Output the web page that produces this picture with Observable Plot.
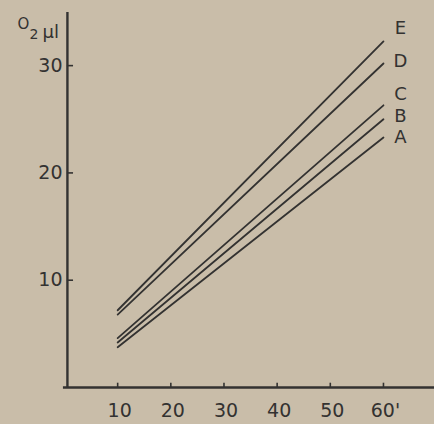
<!DOCTYPE html>
<html>
<head>
<meta charset="utf-8">
<script src="https://cdn.jsdelivr.net/npm/d3@7"></script>
<script src="https://cdn.jsdelivr.net/npm/@observablehq/plot@0.6"></script>
<style>
  html, body { margin: 0; padding: 0; background: #c9bda9; }
  #chart svg { display: block; }
</style>
</head>
<body>
<div id="chart"></div>
<script>
// ---- data ----
const seriesNames = ["A", "B", "C", "D", "E"];
const timeStart = 10;          // minutes
const timeEnd = 60;            // minutes
const o2AtStart = [3.75, 4.2, 4.6, 6.8, 7.2];    // O2 µl at 10'
const o2AtEnd   = [23.3, 25.0, 26.3, 30.2, 32.25]; // O2 µl at 60'
const xTickValues = [10, 20, 30, 40, 50, 60];
const xTickLabels = ["10", "20", "30", "40", "50", "60'"];
const yTickValues = [10, 20, 30];
const yTickLabels = ["10", "20", "30"];

// label nudges (layout only, in y units)
const labelNudge = [0.0, 0.3, 1.0, 0.2, 1.25];

const lineRows = seriesNames.flatMap((s, i) => [
  {series: s, t: timeStart, o2: o2AtStart[i]},
  {series: s, t: timeEnd, o2: o2AtEnd[i]}
]);
const labelRows = seriesNames.map((s, i) => ({series: s, o2: o2AtEnd[i] + labelNudge[i]}));
const xTickRows = xTickValues.map((v, i) => ({v, label: xTickLabels[i]}));
const yTickRows = yTickValues.map((v, i) => ({v, label: yTickLabels[i]}));

const ink = "#333231";
const font = "DejaVu Sans";

const chart = Plot.plot({
  width: 434,
  height: 424,
  marginLeft: 64,
  marginRight: 0,
  marginTop: 0,
  marginBottom: 37,
  x: {domain: [0, 69.6]},
  y: {domain: [0, 36.07]},
  axis: null,
  style: {background: "#c9bda9", fontFamily: font, color: ink},
  marks: [
    // axes
    Plot.ruleY([0], {x1: -0.2, x2: 69.6, stroke: ink, strokeWidth: 2.4}),
    Plot.ruleX([0.55], {y1: 0, y2: 34.95, stroke: ink, strokeWidth: 2.4}),
    // inward ticks
    Plot.ruleX(xTickRows, {x: "v", y1: 0, y2: 0.4, stroke: ink, strokeWidth: 1.6}),
    Plot.ruleY(yTickRows, {y: "v", x1: 0.55, x2: 1.7, stroke: ink, strokeWidth: 1.6}),
    // tick labels
    Plot.text(xTickRows, {x: "v", y: 0, text: "label", dy: 23, dx: 2, fontSize: 19, fill: ink}),
    Plot.text(yTickRows, {x: 0, y: "v", text: "label", textAnchor: "end", dx: -2, fontSize: 19, fill: ink}),
    // series lines
    Plot.line(lineRows, {x: "t", y: "o2", z: "series", stroke: ink, strokeWidth: 1.8}),
    // series labels
    Plot.text(labelRows, {x: timeEnd, y: "o2", text: "series", dx: 17, fontSize: 18, fill: ink}),
    // y unit label  O2 µl
    Plot.text(["O"], {frameAnchor: "top-left", dx: -47, dy: 18, fontSize: 15, fill: ink}),
    Plot.text(["2"], {frameAnchor: "top-left", dx: -35, dy: 29, fontSize: 14, fill: ink}),
    Plot.text(["µl"], {frameAnchor: "top-left", dx: -22, dy: 25, fontSize: 18, fill: ink})
  ]
});
document.getElementById("chart").appendChild(chart);
</script>
</body>
</html>
